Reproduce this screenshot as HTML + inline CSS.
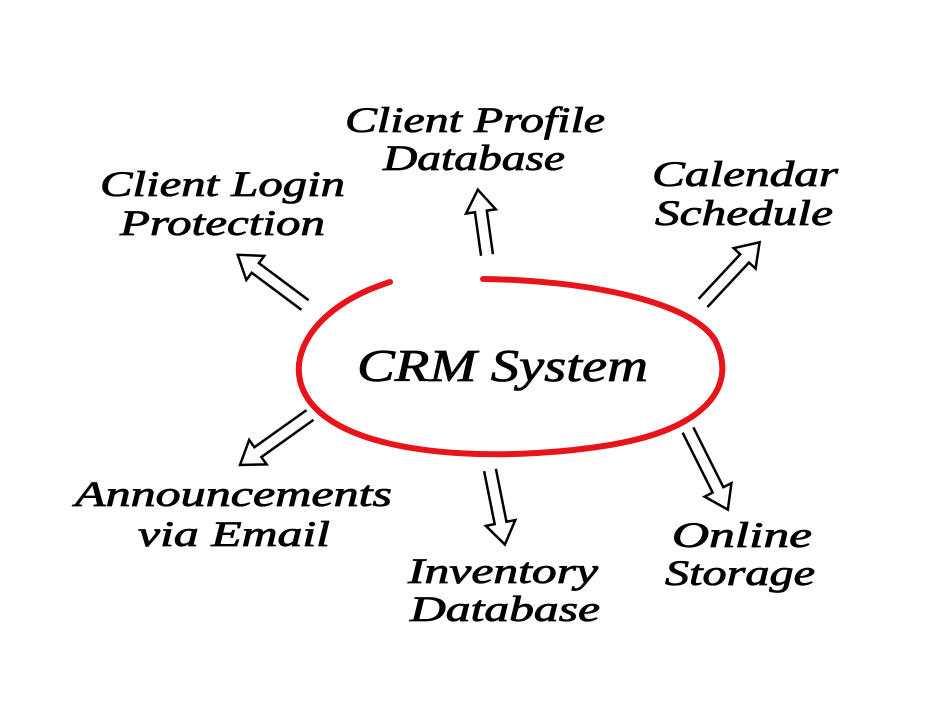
<!DOCTYPE html>
<html><head><meta charset="utf-8"><style>html,body{margin:0;padding:0;background:#fff}svg{display:block}</style></head>
<body>
<svg width="929" height="717" viewBox="0 0 929 717" xmlns="http://www.w3.org/2000/svg">
<rect width="929" height="717" fill="#fff"/>
<path d="M390,282 C300,310 270,380 330,420 C390,460 520,460 610,445 C700,430 740,390 715,340 C690,300 580,280 483,279" fill="none" stroke="#e8141b" stroke-width="6" stroke-linecap="round"/>
<g fill="none" stroke="#000" stroke-width="2.5" stroke-linejoin="miter">
<g transform="translate(305,305) rotate(216.7)"><polyline points="0,-6 62,-6 62,-15 84,0 62,15 62,6 0,6"/></g>
<g transform="translate(487,255) rotate(262)"><polyline points="0,-6 44,-6 44,-15 66,0 44,15 44,6 0,6"/></g>
<g transform="translate(703,303) rotate(-47)"><polyline points="0,-6 61,-6 61,-15 83,0 61,15 61,6 0,6"/></g>
<g transform="translate(310,415) rotate(144.5)"><polyline points="0,-6 64,-6 64,-15 86,0 64,15 64,6 0,6"/></g>
<g transform="translate(490,470) rotate(78.7)"><polyline points="0,-6 54,-6 54,-15 76,0 54,15 54,6 0,6"/></g>
<g transform="translate(688,430) rotate(63.4)"><polyline points="0,-6 67,-6 67,-15 89,0 67,15 67,6 0,6"/></g>
</g>
<g font-family="Liberation Serif, serif" font-style="italic" font-size="36" fill="#000" stroke="#000" stroke-width="0.8">
<text x="345" y="132" textLength="260" lengthAdjust="spacingAndGlyphs">Client Profile</text>
<text x="383" y="170" textLength="182" lengthAdjust="spacingAndGlyphs">Database</text>
<text x="100" y="196" textLength="245" lengthAdjust="spacingAndGlyphs">Client Login</text>
<text x="120" y="235" textLength="205" lengthAdjust="spacingAndGlyphs">Protection</text>
<text x="652" y="186" textLength="186" lengthAdjust="spacingAndGlyphs">Calendar</text>
<text x="655" y="225" textLength="178" lengthAdjust="spacingAndGlyphs">Schedule</text>
<text x="357" y="381" font-size="46" textLength="291" lengthAdjust="spacingAndGlyphs">CRM System</text>
<text x="75" y="506" textLength="317" lengthAdjust="spacingAndGlyphs">Announcements</text>
<text x="138" y="546" textLength="192" lengthAdjust="spacingAndGlyphs">via Email</text>
<text x="408" y="583" textLength="190" lengthAdjust="spacingAndGlyphs">Inventory</text>
<text x="410" y="621" textLength="190" lengthAdjust="spacingAndGlyphs">Database</text>
<text x="672" y="547" textLength="140" lengthAdjust="spacingAndGlyphs">Online</text>
<text x="665" y="585" textLength="150" lengthAdjust="spacingAndGlyphs">Storage</text>
</g>
</svg>
</body></html>
